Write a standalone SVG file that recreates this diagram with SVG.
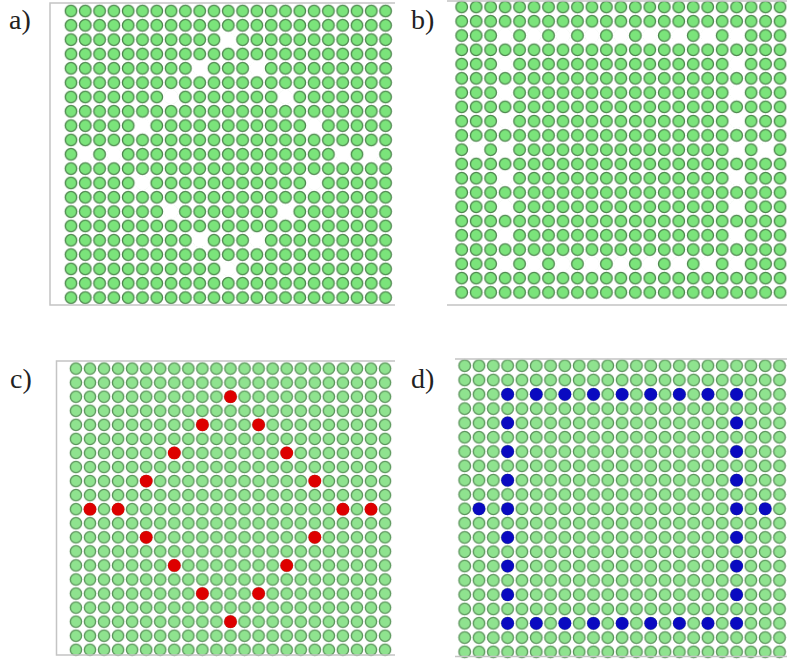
<svg xmlns="http://www.w3.org/2000/svg" xmlns:xlink="http://www.w3.org/1999/xlink" width="787" height="661" viewBox="0 0 787 661">
<style>
.frame{stroke:#c4c4c4;stroke-width:1.5;fill:none}
.lbl{font-family:"Liberation Serif","DejaVu Serif",serif;font-size:28px;fill:#222}
.gab{fill:#7be47b;stroke:#4c844c;stroke-width:1.3}
.gcd{fill:#8fe38f;stroke:#5a925a;stroke-width:1.3}
.hole{fill:#ffffff}
.red{fill:#dd0000}
.blue{fill:#0a0ac0}
</style>
<defs>
<pattern id="pa" patternUnits="userSpaceOnUse" x="63.85" y="3.84" width="14.3" height="14.33"><circle class="gab" cx="7.15" cy="7.165" r="5.8"/></pattern>
<pattern id="pb" patternUnits="userSpaceOnUse" x="454.47" y="-0.135" width="14.47" height="14.27"><circle class="gab" cx="7.235" cy="7.135" r="5.8"/></pattern>
<pattern id="pc" patternUnits="userSpaceOnUse" x="68.925" y="361.57" width="14.05" height="14.06"><circle class="gcd" cx="7.025" cy="7.03" r="5.7"/></pattern>
<pattern id="pd" patternUnits="userSpaceOnUse" x="457.545" y="358.545" width="14.31" height="14.31"><circle class="gcd" cx="7.155" cy="7.155" r="5.8"/></pattern>
</defs>

<g id="panel-a">
<rect x="63.85" y="3.84" width="328.9" height="300.93" fill="url(#pa)"/>
<g class="hole">
<circle cx="228.3" cy="39.66" r="7.2"/>
<circle cx="199.7" cy="68.32" r="7.2"/><circle cx="256.9" cy="68.32" r="7.2"/>
<circle cx="171.1" cy="96.98" r="7.2"/><circle cx="285.5" cy="96.98" r="7.2"/>
<circle cx="142.5" cy="125.64" r="7.2"/><circle cx="314.1" cy="125.64" r="7.2"/>
<circle cx="85.3" cy="154.3" r="7.2"/><circle cx="113.9" cy="154.3" r="7.2"/><circle cx="342.7" cy="154.3" r="7.2"/><circle cx="371.3" cy="154.3" r="7.2"/>
<circle cx="142.5" cy="182.96" r="7.2"/><circle cx="314.1" cy="182.96" r="7.2"/>
<circle cx="171.1" cy="211.62" r="7.2"/><circle cx="285.5" cy="211.62" r="7.2"/>
<circle cx="199.7" cy="240.28" r="7.2"/><circle cx="256.9" cy="240.28" r="7.2"/>
<circle cx="228.3" cy="268.94" r="7.2"/>
</g>
<path class="frame" d="M395,3 H50 V305 H395"/>
<text class="lbl" x="9" y="29">a)</text>
</g>

<g id="panel-b">
<rect x="454.47" y="0" width="332.53" height="299.54" fill="url(#pb)"/>
<g class="hole">
<circle cx="505.11" cy="35.54" r="7.2"/><circle cx="534.05" cy="35.54" r="7.2"/><circle cx="562.99" cy="35.54" r="7.2"/><circle cx="591.93" cy="35.54" r="7.2"/><circle cx="620.87" cy="35.54" r="7.2"/><circle cx="649.81" cy="35.54" r="7.2"/><circle cx="678.75" cy="35.54" r="7.2"/><circle cx="707.69" cy="35.54" r="7.2"/><circle cx="736.63" cy="35.54" r="7.2"/>
<circle cx="505.11" cy="64.08" r="7.2"/><circle cx="736.63" cy="64.08" r="7.2"/>
<circle cx="505.11" cy="92.62" r="7.2"/><circle cx="736.63" cy="92.62" r="7.2"/>
<circle cx="505.11" cy="121.16" r="7.2"/><circle cx="736.63" cy="121.16" r="7.2"/>
<circle cx="476.17" cy="149.7" r="7.2"/><circle cx="505.11" cy="149.7" r="7.2"/><circle cx="736.63" cy="149.7" r="7.2"/><circle cx="765.57" cy="149.7" r="7.2"/>
<circle cx="505.11" cy="178.24" r="7.2"/><circle cx="736.63" cy="178.24" r="7.2"/>
<circle cx="505.11" cy="206.78" r="7.2"/><circle cx="736.63" cy="206.78" r="7.2"/>
<circle cx="505.11" cy="235.32" r="7.2"/><circle cx="736.63" cy="235.32" r="7.2"/>
<circle cx="505.11" cy="263.86" r="7.2"/><circle cx="534.05" cy="263.86" r="7.2"/><circle cx="562.99" cy="263.86" r="7.2"/><circle cx="591.93" cy="263.86" r="7.2"/><circle cx="620.87" cy="263.86" r="7.2"/><circle cx="649.81" cy="263.86" r="7.2"/><circle cx="678.75" cy="263.86" r="7.2"/><circle cx="707.69" cy="263.86" r="7.2"/><circle cx="736.63" cy="263.86" r="7.2"/>
</g>
<path class="frame" d="M447,1 H787 M447,305 H787"/>
<text class="lbl" x="411" y="29">b)</text>
</g>

<g id="panel-c">
<rect x="68.925" y="361.57" width="323.15" height="295.26" fill="url(#pc)"/>
<path class="frame" d="M395,361 H56.5 V655 H395"/>
<g class="red">
<circle cx="230.5" cy="396.72" r="6.4"/>
<circle cx="202.4" cy="424.84" r="6.4"/><circle cx="258.6" cy="424.84" r="6.4"/>
<circle cx="174.3" cy="452.96" r="6.4"/><circle cx="286.7" cy="452.96" r="6.4"/>
<circle cx="146.2" cy="481.08" r="6.4"/><circle cx="314.8" cy="481.08" r="6.4"/>
<circle cx="90" cy="509.2" r="6.4"/><circle cx="118.1" cy="509.2" r="6.4"/><circle cx="342.9" cy="509.2" r="6.4"/><circle cx="371" cy="509.2" r="6.4"/>
<circle cx="146.2" cy="537.32" r="6.4"/><circle cx="314.8" cy="537.32" r="6.4"/>
<circle cx="174.3" cy="565.44" r="6.4"/><circle cx="286.7" cy="565.44" r="6.4"/>
<circle cx="202.4" cy="593.56" r="6.4"/><circle cx="258.6" cy="593.56" r="6.4"/>
<circle cx="230.5" cy="621.68" r="6.4"/>
</g>
<text class="lbl" x="10" y="388">c)</text>
</g>

<g id="panel-d">
<rect x="457.545" y="358.545" width="329.455" height="300.51" fill="url(#pd)"/>
<path class="frame" d="M455,359 H787 M455,656.5 H787"/>
<g class="blue">
<circle cx="507.63" cy="394.32" r="6.4"/><circle cx="536.25" cy="394.32" r="6.4"/><circle cx="564.87" cy="394.32" r="6.4"/><circle cx="593.49" cy="394.32" r="6.4"/><circle cx="622.11" cy="394.32" r="6.4"/><circle cx="650.73" cy="394.32" r="6.4"/><circle cx="679.35" cy="394.32" r="6.4"/><circle cx="707.97" cy="394.32" r="6.4"/><circle cx="736.59" cy="394.32" r="6.4"/>
<circle cx="507.63" cy="422.94" r="6.4"/><circle cx="736.59" cy="422.94" r="6.4"/>
<circle cx="507.63" cy="451.56" r="6.4"/><circle cx="736.59" cy="451.56" r="6.4"/>
<circle cx="507.63" cy="480.18" r="6.4"/><circle cx="736.59" cy="480.18" r="6.4"/>
<circle cx="479.01" cy="508.8" r="6.4"/><circle cx="507.63" cy="508.8" r="6.4"/><circle cx="736.59" cy="508.8" r="6.4"/><circle cx="765.21" cy="508.8" r="6.4"/>
<circle cx="507.63" cy="537.42" r="6.4"/><circle cx="736.59" cy="537.42" r="6.4"/>
<circle cx="507.63" cy="566.04" r="6.4"/><circle cx="736.59" cy="566.04" r="6.4"/>
<circle cx="507.63" cy="594.66" r="6.4"/><circle cx="736.59" cy="594.66" r="6.4"/>
<circle cx="507.63" cy="623.28" r="6.4"/><circle cx="536.25" cy="623.28" r="6.4"/><circle cx="564.87" cy="623.28" r="6.4"/><circle cx="593.49" cy="623.28" r="6.4"/><circle cx="622.11" cy="623.28" r="6.4"/><circle cx="650.73" cy="623.28" r="6.4"/><circle cx="679.35" cy="623.28" r="6.4"/><circle cx="707.97" cy="623.28" r="6.4"/><circle cx="736.59" cy="623.28" r="6.4"/>
</g>
<text class="lbl" x="411" y="388">d)</text>
</g>
</svg>
